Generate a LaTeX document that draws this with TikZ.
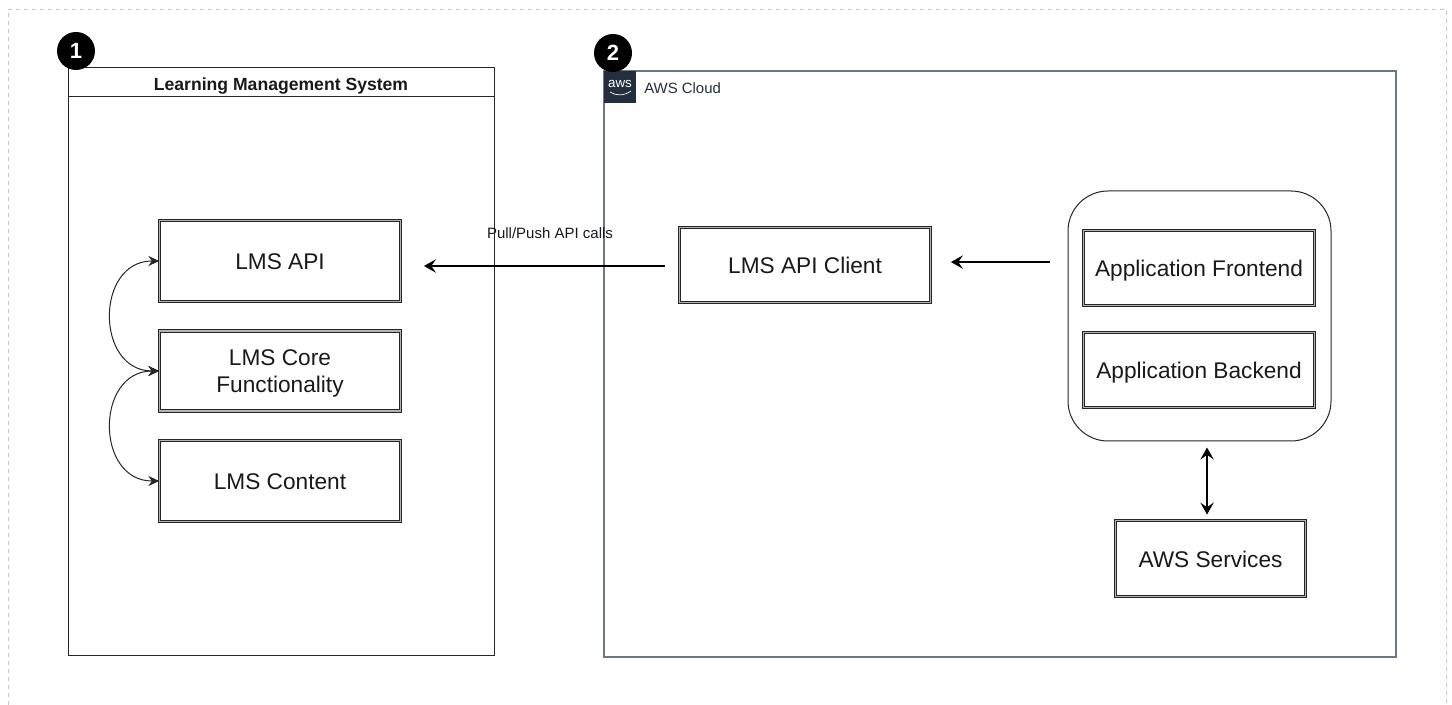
\documentclass[tikz,border=0pt]{standalone}
\usepackage{fontspec}
\setmainfont{Liberation Sans}
\usetikzlibrary{arrows.meta}
\newcommand{\pxu}{0.75pt}
\definecolor{awsdark}{HTML}{232F3E}
\definecolor{awsline}{HTML}{6B7785}
\definecolor{pagedash}{HTML}{C8C8C8}
\tikzset{
  doublebox/.style={draw=black!85, double=black!30, line width=0.6pt, double distance=1.1pt, inner sep=0pt, align=center, font=\fontsize{17}{20.3}\selectfont, text=black!90, text height=13pt, text depth=0pt},
  badge/.style={circle, fill=black, text=white, minimum size=38*\pxu, inner sep=0pt, font=\fontsize{16.5}{18}\selectfont\bfseries},
  link/.style={draw=black, line width=1.7pt, -{Stealth[length=9pt,width=10pt,inset=3.5pt]}},
  bendlink/.style={draw=black!85, line width=0.75pt, {Stealth[length=8pt,width=7.5pt,inset=2.5pt]}-{Stealth[length=8pt,width=7.5pt,inset=2.5pt]}}
}
\begin{document}
\begin{tikzpicture}[x=0.75pt, y=-0.75pt]
\useasboundingbox (0,0) rectangle (1452,705);
\draw[draw=pagedash, dashed, line width=0.6pt] (8,705) -- (8,9) -- (1446,9) -- (1446,705);

\draw[draw=black!85, line width=0.75pt] (68,68) rectangle (494,655);
\draw[draw=black!85, line width=0.75pt] (68,97) -- (494,97);
\node[font=\fontsize{13.2}{16}\selectfont\bfseries, text=black!90] (lmstitle) at (281,86) {Learning Management System};
\draw[draw=awsline, line width=0.8pt] (604,71) rectangle (1396,657);
\fill[awsdark] (604,71) rectangle (636,103);
\node[text=white, inner sep=0pt, font=\fontsize{10}{12}\selectfont] (awslogo) at (620,84) {aws};
\draw[draw=white, line width=0.5pt] (610,92) .. controls (616,96) and (624,96) .. (631,91);
\node[anchor=west, inner sep=0pt, text=awsdark, font=\fontsize{11.2}{14}\selectfont] (awstitle) at (644,88) {AWS Cloud};

\node[badge] (badgeone) at (76,51) {1};
\node[badge] (badgetwo) at (613,53) {2};

\node[doublebox, minimum width=241*\pxu, minimum height=81*\pxu] (lmsapi) at (280,261) {LMS API};
\node[doublebox, minimum width=241*\pxu, minimum height=80*\pxu, text height=33pt] (lmscore) at (280,371) {LMS Core\\Functionality};
\node[doublebox, minimum width=241*\pxu, minimum height=81*\pxu] (lmscontent) at (280,481) {LMS Content};

\node[doublebox, minimum width=251*\pxu, minimum height=75*\pxu] (apiclient) at (805,265) {LMS API Client};
\node[draw=black!85, line width=0.75pt, rounded corners=30pt, minimum width=263*\pxu, minimum height=250*\pxu] (appgroup) at (1199.5,316) {};
\node[doublebox, minimum width=231*\pxu, minimum height=75*\pxu] (appfront) at (1199,268) {Application Frontend};
\node[doublebox, minimum width=231*\pxu, minimum height=75*\pxu] (appback) at (1199,370) {Application Backend};
\node[doublebox, minimum width=190*\pxu, minimum height=76*\pxu] (awsservices) at (1210.5,558.5) {AWS Services};

\draw[bendlink] (lmsapi.west) .. controls +(-64,0) and +(-64,0) .. (lmscore.west);
\draw[bendlink] (lmscontent.west) .. controls +(-64,0) and +(-64,0) .. (lmscore.west);
\draw[link, shorten <=14*\pxu, shorten >=23*\pxu] ([yshift=-0.75pt]apiclient.west) -- ([yshift=-0.75pt]apiclient.west -| lmsapi.east);
\draw[link, shorten <=18*\pxu, shorten >=20*\pxu] ([yshift=2.2pt]apiclient.east -| appgroup.west) -- ([yshift=2.2pt]apiclient.east);
\draw[link, {Stealth[length=9pt,width=10pt,inset=3.5pt]}-{Stealth[length=9pt,width=10pt,inset=3.5pt]}, shorten <=6*\pxu, shorten >=5.5*\pxu] ([xshift=-2.6pt]awsservices.north |- appgroup.south) -- ([xshift=-2.6pt]awsservices.north);

\node[font=\fontsize{11.25}{14}\selectfont, text=black!90, inner sep=0pt] (pulllabel) at (550,233) {Pull/Push API calls};
\end{tikzpicture}
\end{document}
